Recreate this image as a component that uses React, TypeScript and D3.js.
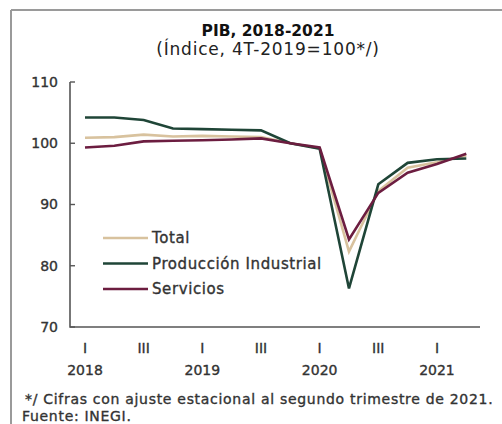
import React from "react";
import * as d3 from "d3";

const quarters = ["I-2018","II-2018","III-2018","IV-2018","I-2019","II-2019","III-2019","IV-2019","I-2020","II-2020","III-2020","IV-2020","I-2021","II-2021"];
const total = [100.9, 101.0, 101.4, 101.1, 101.2, 101.1, 101.0, 100.0, 99.2, 82.3, 92.2, 96.0, 96.9, 98.0];
const produccion = [104.2, 104.2, 103.8, 102.4, 102.3, 102.2, 102.1, 100.0, 99.1, 76.3, 93.3, 96.8, 97.4, 97.5];
const servicios = [99.3, 99.6, 100.3, 100.4, 100.5, 100.6, 100.8, 100.0, 99.3, 84.3, 91.9, 95.2, 96.6, 98.3];
const yTicks = [70, 80, 90, 100, 110];
const quarterLabels = [{ i: 0, q: "I", y: "2018" }, { i: 2, q: "III", y: "" }, { i: 4, q: "I", y: "2019" }, { i: 6, q: "III", y: "" }, { i: 8, q: "I", y: "2020" }, { i: 10, q: "III", y: "" }, { i: 12, q: "I", y: "2021" }];
const seriesNames = ["Total", "Producción Industrial", "Servicios"];

const colors = ["#d8c29e", "#1f4537", "#6c1d40"];
const FONT = "'DejaVu Sans', sans-serif";

export default function App() {
  const x = d3.scaleLinear().domain([0, 13]).range([85, 466.3]);
  const y = d3.scaleLinear().domain([70, 110]).range([327, 82]);
  const line = d3.line<number>().x((_, i) => x(i)).y((d) => y(d));
  const series = [total, produccion, servicios];
  const textColor = "#333";
  const thick = { stroke: textColor, strokeWidth: 0.35 };
  return (
    <svg width={502} height={424} style={{ position: "absolute", left: 0, top: 0 }} fontFamily={FONT}>
      <rect width={502} height={424} fill="#fff" />
      <line x1={11} x2={502} y1={10} y2={10} stroke="#9a9a9a" strokeWidth={2} />
      <line x1={11} x2={11} y1={10} y2={424} stroke="#9a9a9a" strokeWidth={2} />
      <text x={268} y={36} textAnchor="middle" fontSize={15.5} fontWeight="bold" fill="#111">PIB, 2018-2021</text>
      <text x={268} y={55} textAnchor="middle" fontSize={17} letterSpacing={0.8} fill="#222">(Índice, 4T-2019=100*/)</text>
      <path d={`M70,${y(110)}H70V${y(70)}H480`} fill="none" stroke="#555" strokeWidth={1.6} />
      {yTicks.map((t) => (
        <g key={t}>
          <line x1={70} x2={75} y1={y(t)} y2={y(t)} stroke="#555" strokeWidth={1.4} />
          <text x={58} y={y(t)} dy="0.35em" textAnchor="end" fontSize={14} fill={textColor} {...thick}>{t}</text>
        </g>
      ))}
      {quarterLabels.map((d) => (
        <g key={d.i}>
          <text x={x(d.i)} y={353} textAnchor="middle" fontSize={14} fill={textColor} {...thick}>{d.q}</text>
          {d.y && <text x={x(d.i)} y={375} textAnchor="middle" fontSize={14} fill={textColor} {...thick}>{d.y}</text>}
        </g>
      ))}
      {series.map((s, k) => (
        <path key={k} d={line(s) || ""} fill="none" stroke={colors[k]} strokeWidth={2.6} strokeLinejoin="miter" />
      ))}
      {seriesNames.map((n, k) => (
        <g key={n}>
          <line x1={103} x2={148} y1={238 + k * 25.5} y2={238 + k * 25.5} stroke={colors[k]} strokeWidth={2.6} />
          <text x={152} y={238 + k * 25.5} dy="0.35em" fontSize={15} letterSpacing={0.6} fill={textColor} {...thick}>{n}</text>
        </g>
      ))}
      <text x={25} y={404} fontSize={14} letterSpacing={0.7} fill={textColor} {...thick}>*/ Cifras con ajuste estacional al segundo trimestre de 2021.</text>
      <text x={22} y={421} fontSize={14} letterSpacing={0.7} fill={textColor} {...thick}>Fuente: INEGI.</text>
    </svg>
  );
}
